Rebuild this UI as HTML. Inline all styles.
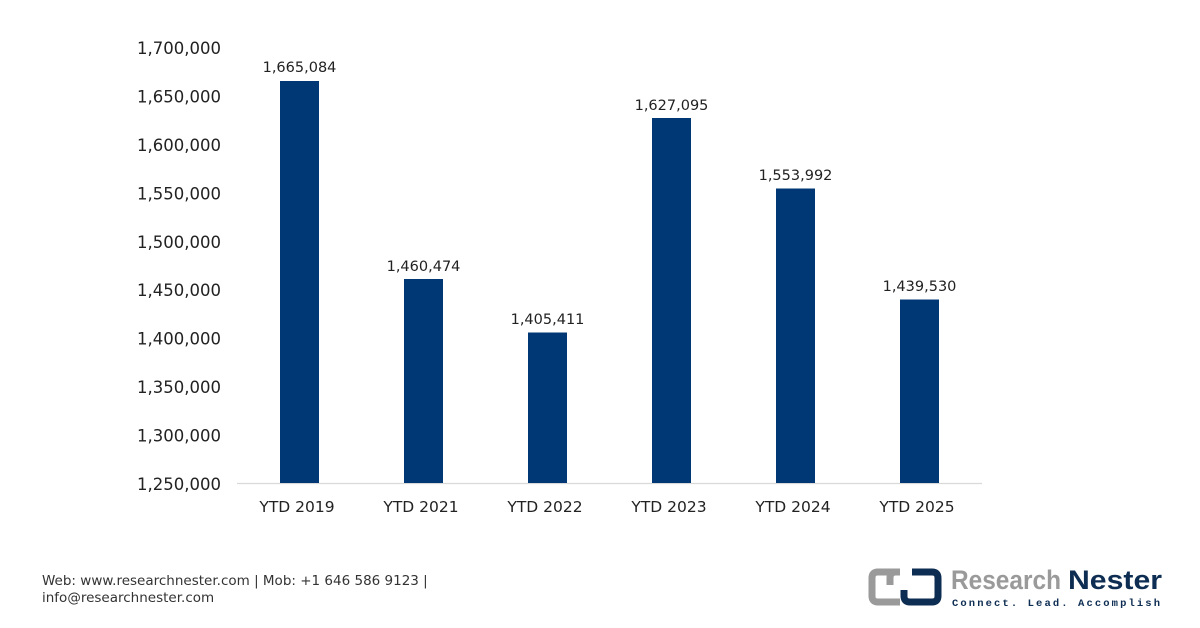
<!DOCTYPE html>
<html><head><meta charset="utf-8"><style>
html,body{margin:0;padding:0;background:#fff;}
svg{display:block;font-family:"DejaVu Sans","Liberation Sans",sans-serif;}
</style></head><body>
<svg width="1200" height="628" viewBox="0 0 1200 628">
<g font-size="16.5" fill="#222" text-anchor="end">
<text x="221" y="54">1,700,000</text>
<text x="221" y="102.4">1,650,000</text>
<text x="221" y="150.9">1,600,000</text>
<text x="221" y="199.3">1,550,000</text>
<text x="221" y="247.8">1,500,000</text>
<text x="221" y="296.2">1,450,000</text>
<text x="221" y="344.6">1,400,000</text>
<text x="221" y="393.1">1,350,000</text>
<text x="221" y="441.5">1,300,000</text>
<text x="221" y="490">1,250,000</text>
</g>
<line x1="237" y1="483.5" x2="982" y2="483.5" stroke="#d9d9d9" stroke-width="1.2"/>
<g fill="#003876">
<rect x="280" y="81" width="39" height="402"/>
<rect x="404" y="279" width="39" height="204"/>
<rect x="528" y="332.5" width="39" height="150.5"/>
<rect x="652" y="118" width="39" height="365"/>
<rect x="776" y="188.5" width="39" height="294.5"/>
<rect x="900" y="299.5" width="39" height="183.5"/>
</g>
<g font-size="14.5" fill="#222" text-anchor="middle">
<text x="299.5" y="72">1,665,084</text>
<text x="423.5" y="271">1,460,474</text>
<text x="547.5" y="324">1,405,411</text>
<text x="671.5" y="110">1,627,095</text>
<text x="795.5" y="180">1,553,992</text>
<text x="919.5" y="291">1,439,530</text>
</g>
<g font-size="15.5" fill="#222" text-anchor="middle">
<text x="297" y="512">YTD 2019</text>
<text x="421" y="512">YTD 2021</text>
<text x="545" y="512">YTD 2022</text>
<text x="669" y="512">YTD 2023</text>
<text x="793" y="512">YTD 2024</text>
<text x="917" y="512">YTD 2025</text>
</g>
<g font-size="13.5" fill="#333">
<text x="42" y="585">Web: www.researchnester.com | Mob: +1 646 586 9123 |</text>
<text x="42" y="602">info@researchnester.com</text>
</g>
<g fill="none" stroke-width="7">
<path d="M900 572 H878 Q872 572 872 578 V596 Q872 602 878 602 H900" stroke="#9a9a9a"/>
<path d="M890 585 V578 Q890 572 896 572" stroke="#9a9a9a"/>
<path d="M912 572 H932 Q938 572 938 578 V596 Q938 602 932 602 H910 Q904 602 904 596 V590" stroke="#0d2d52"/>
</g>
<text x="951" y="589" font-family="Liberation Sans,sans-serif" font-size="27" font-weight="bold" fill="#9a9a9a" textLength="110" lengthAdjust="spacingAndGlyphs">Research</text>
<text x="1068" y="589" font-family="Liberation Sans,sans-serif" font-size="27" font-weight="bold" fill="#0d2d52" textLength="94" lengthAdjust="spacingAndGlyphs">Nester</text>
<text x="952" y="606" font-family="Liberation Mono,monospace" font-size="10.5" font-weight="bold" fill="#0d2d52" textLength="208" lengthAdjust="spacing">Connect. Lead. Accomplish</text>
</svg>
</body></html>
